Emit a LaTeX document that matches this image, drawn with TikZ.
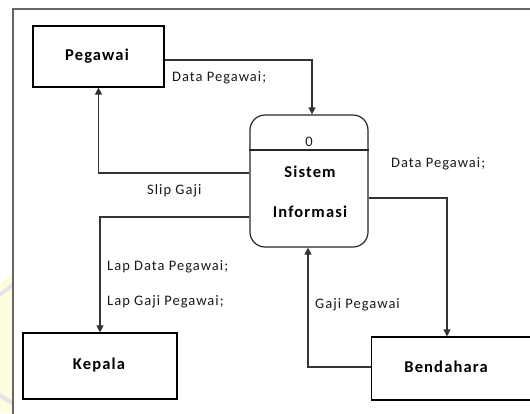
\documentclass[tikz,border=0pt]{standalone}
\usepackage{fontspec}
\setmainfont{Carlito}
\usetikzlibrary{arrows.meta,calc}
\newfontfamily\lblfont[LetterSpace=7]{Carlito}
\newfontfamily\boldlblfont[LetterSpace=7]{Carlito Bold}
\begin{document}
\begin{tikzpicture}[x=1pt,y=-1pt,
  entity/.style={draw=black,line width=1.2pt,inner sep=0pt,fill=white},
  procbox/.style={draw=black!85,line width=1.2pt,inner sep=0pt,rounded corners=15pt,fill=white},
  flow/.style={draw=black!80,line width=1.1pt,-{Triangle[length=7pt,width=7pt]}},
  lbl/.style={font=\fontsize{14.5}{16}\lblfont,inner sep=0pt,text=black!90},
  bold/.style={font=\fontsize{16.5}{18}\boldlblfont,inner sep=0pt},
  frame/.style={draw=black!60,line width=1.6pt}]
\useasboundingbox (0,0) rectangle (530,413);
% watermark hint
\fill[yellow!12] (0,285) -- (12,272) -- (12,413) -- (0,413) -- cycle;
\fill[black!10] (0,292) -- (12,283) -- (12,288) -- (0,297) -- cycle;
\fill[black!10] (0,393) -- (12,400) -- (12,405) -- (0,398) -- cycle;
% outer frame
\draw[frame] (13,9) rectangle (560,440);
% entities
\node[entity,minimum width=131pt,minimum height=61pt] (peg) at (98.5,56.5) {};
\node[bold] (pegt) at (97,56) {Pegawai};
\node[entity,minimum width=154pt,minimum height=66pt] (kep) at (100,366) {};
\node[bold] (kept) at (99,365) {Kepala};
\node[entity,minimum width=175pt,minimum height=63pt,anchor=west] (ben) at (371,368.5) {};
\node[bold] (bent) at (446,367) {Bendahara};
% process
\node[procbox,minimum width=118pt,minimum height=132pt] (proc) at (309,181) {};
\draw[black!85,line width=1.2pt] (proc.west |- 0,150) -- (proc.east |- 0,150);
\node[lbl] (pnum) at (309,141.5) {0};
\node[bold] (p1) at (310,172) {Sistem};
\node[bold] (p2) at (310,212) {Informasi};
% flows
\coordinate (c1) at (312,60);
\draw[flow] (peg.east |- c1) -| ([xshift=3pt]proc.north);
\node[lbl,anchor=west] (l1) at (172,78) {Data Pegawai;};
\coordinate (c2) at (99,173);
\draw[flow] (proc.west |- c2) -| (peg.south);
\node[lbl,anchor=west] (l2) at (147,191) {Slip Gaji};
\coordinate (c3) at (99,217);
\draw[flow] (proc.west |- c3) -| (kep.north);
\node[lbl,anchor=west] (l3) at (107,267) {Lap Data Pegawai;};
\node[lbl,anchor=west] (l4) at (107,302) {Lap Gaji Pegawai;};
\coordinate (c4) at (447,198);
\draw[flow] (proc.east |- c4) -| (ben.north -| c4);
\node[lbl,anchor=west] (l5) at (391,164) {Data Pegawai;};
\coordinate (c5) at (308,367);
\draw[flow] (ben.west |- c5) -| (proc.south -| c5);
\node[lbl,anchor=west] (l6) at (315,305) {Gaji Pegawai};
\end{tikzpicture}
\end{document}
